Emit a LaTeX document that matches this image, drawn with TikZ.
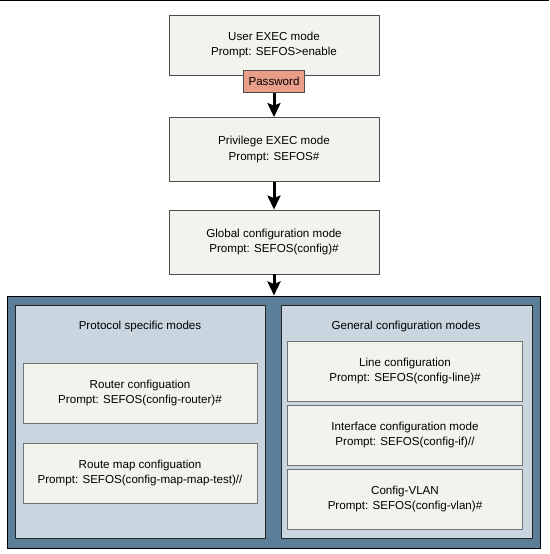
\documentclass[tikz,border=0pt]{standalone}
\usepackage{fontspec}
\setmainfont{Liberation Sans}
\usetikzlibrary{positioning}
\usetikzlibrary{arrows.meta}

\definecolor{framebg}{RGB}{91,126,153}
\definecolor{panelbg}{RGB}{201,213,223}
\definecolor{modebg}{RGB}{243,243,237}
\definecolor{pwdbg}{RGB}{232,158,136}

\tikzset{
  modebox/.style={draw=black!70, fill=modebg, line width=0.8pt, minimum width=210pt,
    minimum height=60pt, align=center, inner sep=0pt,
    font=\fontsize{11.6}{15.6}\selectfont},
  subbox/.style={modebox, draw=black!55, minimum width=234pt},
  pwdtag/.style={draw=black!70, fill=pwdbg, line width=0.6pt, minimum width=61pt,
    minimum height=22pt, inner sep=0pt, font=\fontsize{11.6}{13}\selectfont},
  panel/.style={draw=black!85, fill=panelbg, line width=1pt, minimum height=233pt, inner sep=0pt},
  frame/.style={draw=black, fill=framebg, line width=1pt, minimum width=533pt,
    minimum height=252pt, inner sep=0pt},
  paneltitle/.style={font=\fontsize{11.6}{13}\selectfont, inner sep=0pt},
  flow/.style={-{Stealth[length=14pt,width=13pt,inset=2.5pt]}, line width=3pt}
}

\begin{document}
\begin{tikzpicture}[x=1pt,y=-1pt]
    \useasboundingbox (0,0) rectangle (549,554);
    \draw[line width=1.2pt] (0,0.6) -- (549,0.6);

    % upper chain of modes
    \node[modebox] (user) at (274,45) {User EXEC mode\\Prompt: SEFOS>enable};
    \node[pwdtag] (pwd) at (274,81.5) {Password};
    \node[modebox, minimum height=64pt] (priv) at (274,149.5) {Privilege EXEC mode\\Prompt: SEFOS\#};
    \node[modebox, minimum height=64pt] (glob) at (274,242) {Global configuration mode\\Prompt: SEFOS(config)\#};

    % configuration area
    \node[frame] (outer) at (273.5,422) {};
    \node[panel, minimum width=250pt] (proto) at (140,421.5) {};
    \node[panel, minimum width=251pt] (general) at (406.5,421.5) {};
    \node[paneltitle] (protot) at (140,326) {Protocol specific modes};
    \node[paneltitle] (generalt) at (406,326) {General configuration modes};

    \node[subbox] (router) at (140,393) {Router configuation\\Prompt: SEFOS(config-router)\#};
    \node[subbox] (rmap) at (140,473) {Route map configuation\\Prompt: SEFOS(config-map-map-test)//};
    \node[subbox, minimum width=235pt] (line) at (405,371) {Line configuration\\Prompt: SEFOS(config-line)\#};
    \node[subbox, minimum width=235pt] (iface) at (405,435) {Interface configuration mode\\Prompt: SEFOS(config-if)//};
    \node[subbox, minimum width=235pt] (vlan) at (405,499) {Config-VLAN\\Prompt: SEFOS(config-vlan)\#};

    \draw[flow] (pwd) -- (priv);
    \draw[flow] (priv) -- (glob);
    \draw[flow] (glob.south) -- (glob.south |- outer.north);

\end{tikzpicture}
\end{document}
